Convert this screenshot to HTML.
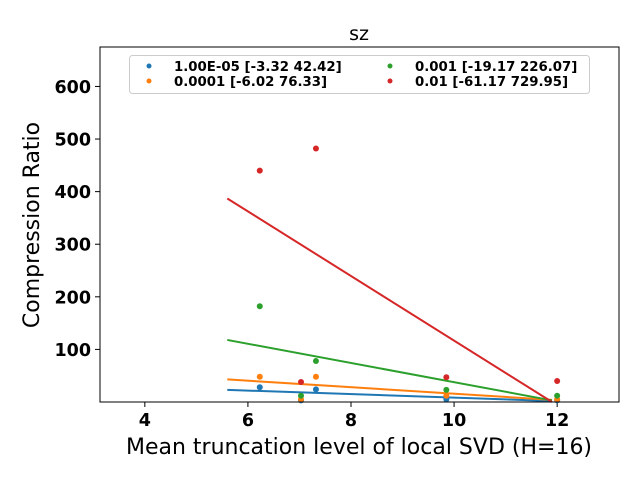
<!DOCTYPE html>
<html><head><meta charset="utf-8"><style>
body{margin:0;background:#fff}
svg{display:block;font-family:"DejaVu Sans","Liberation Sans",sans-serif}
</style></head><body>
<svg id="chart" width="640" height="480">
<text x="359" y="40" text-anchor="middle" font-size="19">sz</text>
<text transform="translate(39,225) rotate(-90)" text-anchor="middle" font-size="22">Compression Ratio</text>
<text x="359" y="454" text-anchor="middle" font-size="22">Mean truncation level of local SVD (H=16)</text>
<g id="plot"></g>
<rect x="100" y="47" width="519" height="355" fill="none" stroke="#000" stroke-width="1"/>
<g>
<rect x="129.5" y="55.5" width="460" height="38" rx="3" fill="#fff" fill-opacity="0.8" stroke="#ccc"/>
<g id="legend-entries"></g>
</g>
</svg>
<script>
const xTicks=[4,6,8,10,12];
const yTicks=[100,200,300,400,500,600];
const seriesNames=["1.00E-05 [-3.32 42.42]","0.0001 [-6.02 76.33]","0.001 [-19.17 226.07]","0.01 [-61.17 729.95]"];
const colors=["#1f77b4","#ff7f0e","#2ca02c","#d62728"];
const xValues=[6.23,7.03,7.32,9.85,12.0];
const blueY=[28,3,24,5,3];
const orangeY=[48,5,48,12,5];
const greenY=[182,12,78,23,12];
const redY=[440,38,482,47,40];
const fitX=[5.6,11.9];
const blueFit=[23,2];
const orangeFit=[43,4];
const greenFit=[118,3];
const redFit=[387,0];
const seriesY=[blueY,orangeY,greenY,redY];
const fits=[blueFit,orangeFit,greenFit,redFit];
const X0=100,X1=619,Y0=402,Y1=47,xmin=3.13,xmax=13.2,ymin=0,ymax=675;
const sx=v=>X0+(v-xmin)/(xmax-xmin)*(X1-X0);
const sy=v=>Y0-(v-ymin)/(ymax-ymin)*(Y0-Y1);
const NS="http://www.w3.org/2000/svg";
const plot=document.getElementById('plot');
function mk(t,a,p){const e=document.createElementNS(NS,t);for(const k in a)e.setAttribute(k,a[k]);(p||plot).appendChild(e);return e;}
xTicks.forEach(t=>{
 const l=mk('line',{x1:sx(t),x2:sx(t),y1:Y0,y2:Y0+5,stroke:'#000'});
 
 
 const tx=mk('text',{x:sx(t),y:Y0+24,'text-anchor':'middle','font-size':17.5,'font-weight':'bold'});
 tx.textContent=t;
 
 
});
yTicks.forEach(t=>{
 const l=mk('line',{x1:X0-5,x2:X0,y1:sy(t),y2:sy(t),stroke:'#000'});
 
 
 const tx=mk('text',{x:X0-9,y:sy(t)+6.5,'text-anchor':'end','font-size':17.5,'font-weight':'bold'});
 tx.textContent=t;
 
 
});
seriesY.forEach((ys,i)=>{
 const f=fits[i];
 const ln=mk('line',{x1:sx(fitX[0]),y1:sy(f[0]),x2:sx(fitX[1]),y2:sy(f[1]),stroke:colors[i],'stroke-width':2});
 
 
});
seriesY.forEach((ys,i)=>{
 ys.forEach((v,j)=>{
  const c=mk('circle',{cx:sx(xValues[j]),cy:sy(v),r:3,fill:colors[i]});
  
  
 });
});
const leg=document.getElementById('legend-entries');
const lpos=[[149,174,66],[149,174,81],[390,415,66],[390,415,81]];
seriesNames.forEach((n,i)=>{
 const p=lpos[i];
 const c=mk('circle',{cx:p[0],cy:p[2],r:2.5,fill:colors[i]},leg);
 
 
 const t=mk('text',{x:p[1],y:p[2]+5,'font-size':13.3,'font-weight':'bold'},leg);
 t.textContent=n;
 
 
});
</script>
</body></html>
